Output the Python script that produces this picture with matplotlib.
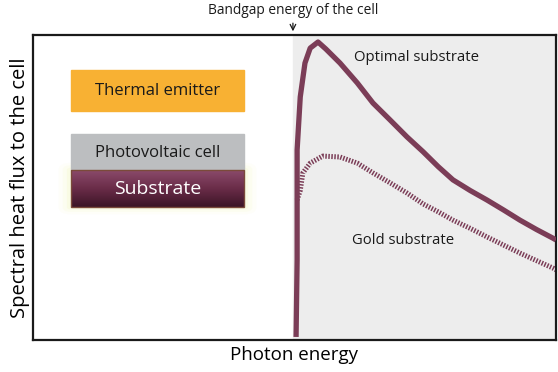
import numpy as np
import matplotlib
matplotlib.use("Agg")
import matplotlib.pyplot as plt
from matplotlib.patches import Rectangle, FancyBboxPatch

plt.rcParams['font.family'] = ['Open Sans', 'DejaVu Sans']

# curves (normalised photon energy / flux)
opt_x = [0.503, 0.505, 0.505, 0.511, 0.520, 0.530, 0.545, 0.560, 0.587, 0.620,
         0.650, 0.683, 0.715, 0.746, 0.775, 0.803, 0.836, 0.868, 0.900, 0.931, 0.963, 0.994, 1.0]
opt_y = [0.010, 0.262, 0.623, 0.797, 0.908, 0.957, 0.977, 0.954, 0.908, 0.843,
         0.777, 0.721, 0.666, 0.617, 0.568, 0.525, 0.490, 0.459, 0.426, 0.393, 0.362, 0.334, 0.328]

gold_x = [0.505, 0.511, 0.516, 0.530, 0.554, 0.587, 0.620, 0.650, 0.683, 0.715,
          0.746, 0.775, 0.803, 0.836, 0.868, 0.900, 0.931, 0.963, 0.994, 1.0]
gold_y = [0.459, 0.490, 0.548, 0.580, 0.603, 0.600, 0.580, 0.548, 0.515, 0.482,
          0.446, 0.420, 0.393, 0.366, 0.338, 0.311, 0.285, 0.260, 0.236, 0.230]

bandgap = 0.497
line_col = '#7b3d57'

fig = plt.figure(figsize=(5.58, 3.72), dpi=100)
ax = fig.add_axes([33/558, 32/372, 523/558, 305/372])
ax.set_xlim(0, 1)
ax.set_ylim(0, 1)
ax.set_xticks([])
ax.set_yticks([])
for s in ax.spines.values():
    s.set_linewidth(1.6)
    s.set_color('#1a1a1a')

ax.axvspan(bandgap, 1, color='#ededed', zorder=0)
ax.plot(opt_x, opt_y, color=line_col, lw=3.8, solid_capstyle='butt', solid_joinstyle='round', zorder=3)
ax.plot(gold_x, gold_y, color=line_col, lw=3.6, linestyle=(0, (0.3, 0.3)), zorder=2)

ax.text(0.613, 0.925, 'Optimal substrate', fontsize=10.7, color='#1a1a1a', ha='left', va='center')
ax.text(0.610, 0.325, 'Gold substrate', fontsize=10.7, color='#1a1a1a', ha='left', va='center')

# stack of boxes
x0, x1 = 0.0727, 0.4034
ax.add_patch(Rectangle((x0, 0.751), x1 - x0, 0.134, color='#f8b133', zorder=3))
ax.text((x0 + x1) / 2, 0.815, 'Thermal emitter', fontsize=12, ha='center', va='center', color='#1a1a1a', zorder=4)
ax.add_patch(Rectangle((x0, 0.557), x1 - x0, 0.118, color='#bcbec0', zorder=3))
ax.text((x0 + x1) / 2, 0.614, 'Photovoltaic cell', fontsize=12, ha='center', va='center', color='#1a1a1a', zorder=4)
for k, a in enumerate([0.06, 0.10, 0.16]):
    pad = 0.008 * (3 - k)
    ax.add_patch(FancyBboxPatch((x0, 0.436), x1 - x0, 0.121, boxstyle='round,pad=%f' % pad,
                                color='#eef5a8', alpha=a, lw=0, zorder=2))
grad = np.linspace(0, 1, 50).reshape(-1, 1)
ax.imshow(grad, extent=(x0, x1, 0.436, 0.557), origin='lower', aspect='auto',
          cmap=matplotlib.colors.LinearSegmentedColormap.from_list('sub', ['#3c1527', '#6a2c48', '#8a4a6a']),
          zorder=3)
ax.add_patch(Rectangle((x0, 0.436), x1 - x0, 0.121, facecolor='none', edgecolor='#7a4a3a', lw=1, zorder=3))
ax.text((x0 + x1) / 2, 0.494, 'Substrate', fontsize=14, ha='center', va='center', color='white', zorder=4)
ax.set_xlim(0, 1)
ax.set_ylim(0, 1)

ax.set_xlabel('Photon energy', fontsize=13.5, labelpad=4)
ax.set_ylabel('Spectral heat flux to the cell', fontsize=14.5, labelpad=2)

ax.annotate('', xy=(bandgap, 1.003), xycoords='axes fraction', xytext=(bandgap, 1.048),
            arrowprops=dict(arrowstyle='->', color='#1a1a1a', lw=0.9), annotation_clip=False)
ax.text(bandgap, 1.055, 'Bandgap energy of the cell', transform=ax.transAxes, fontsize=9.9,
        ha='center', va='bottom', color='#1a1a1a')

fig.savefig('out.png', dpi=100)
